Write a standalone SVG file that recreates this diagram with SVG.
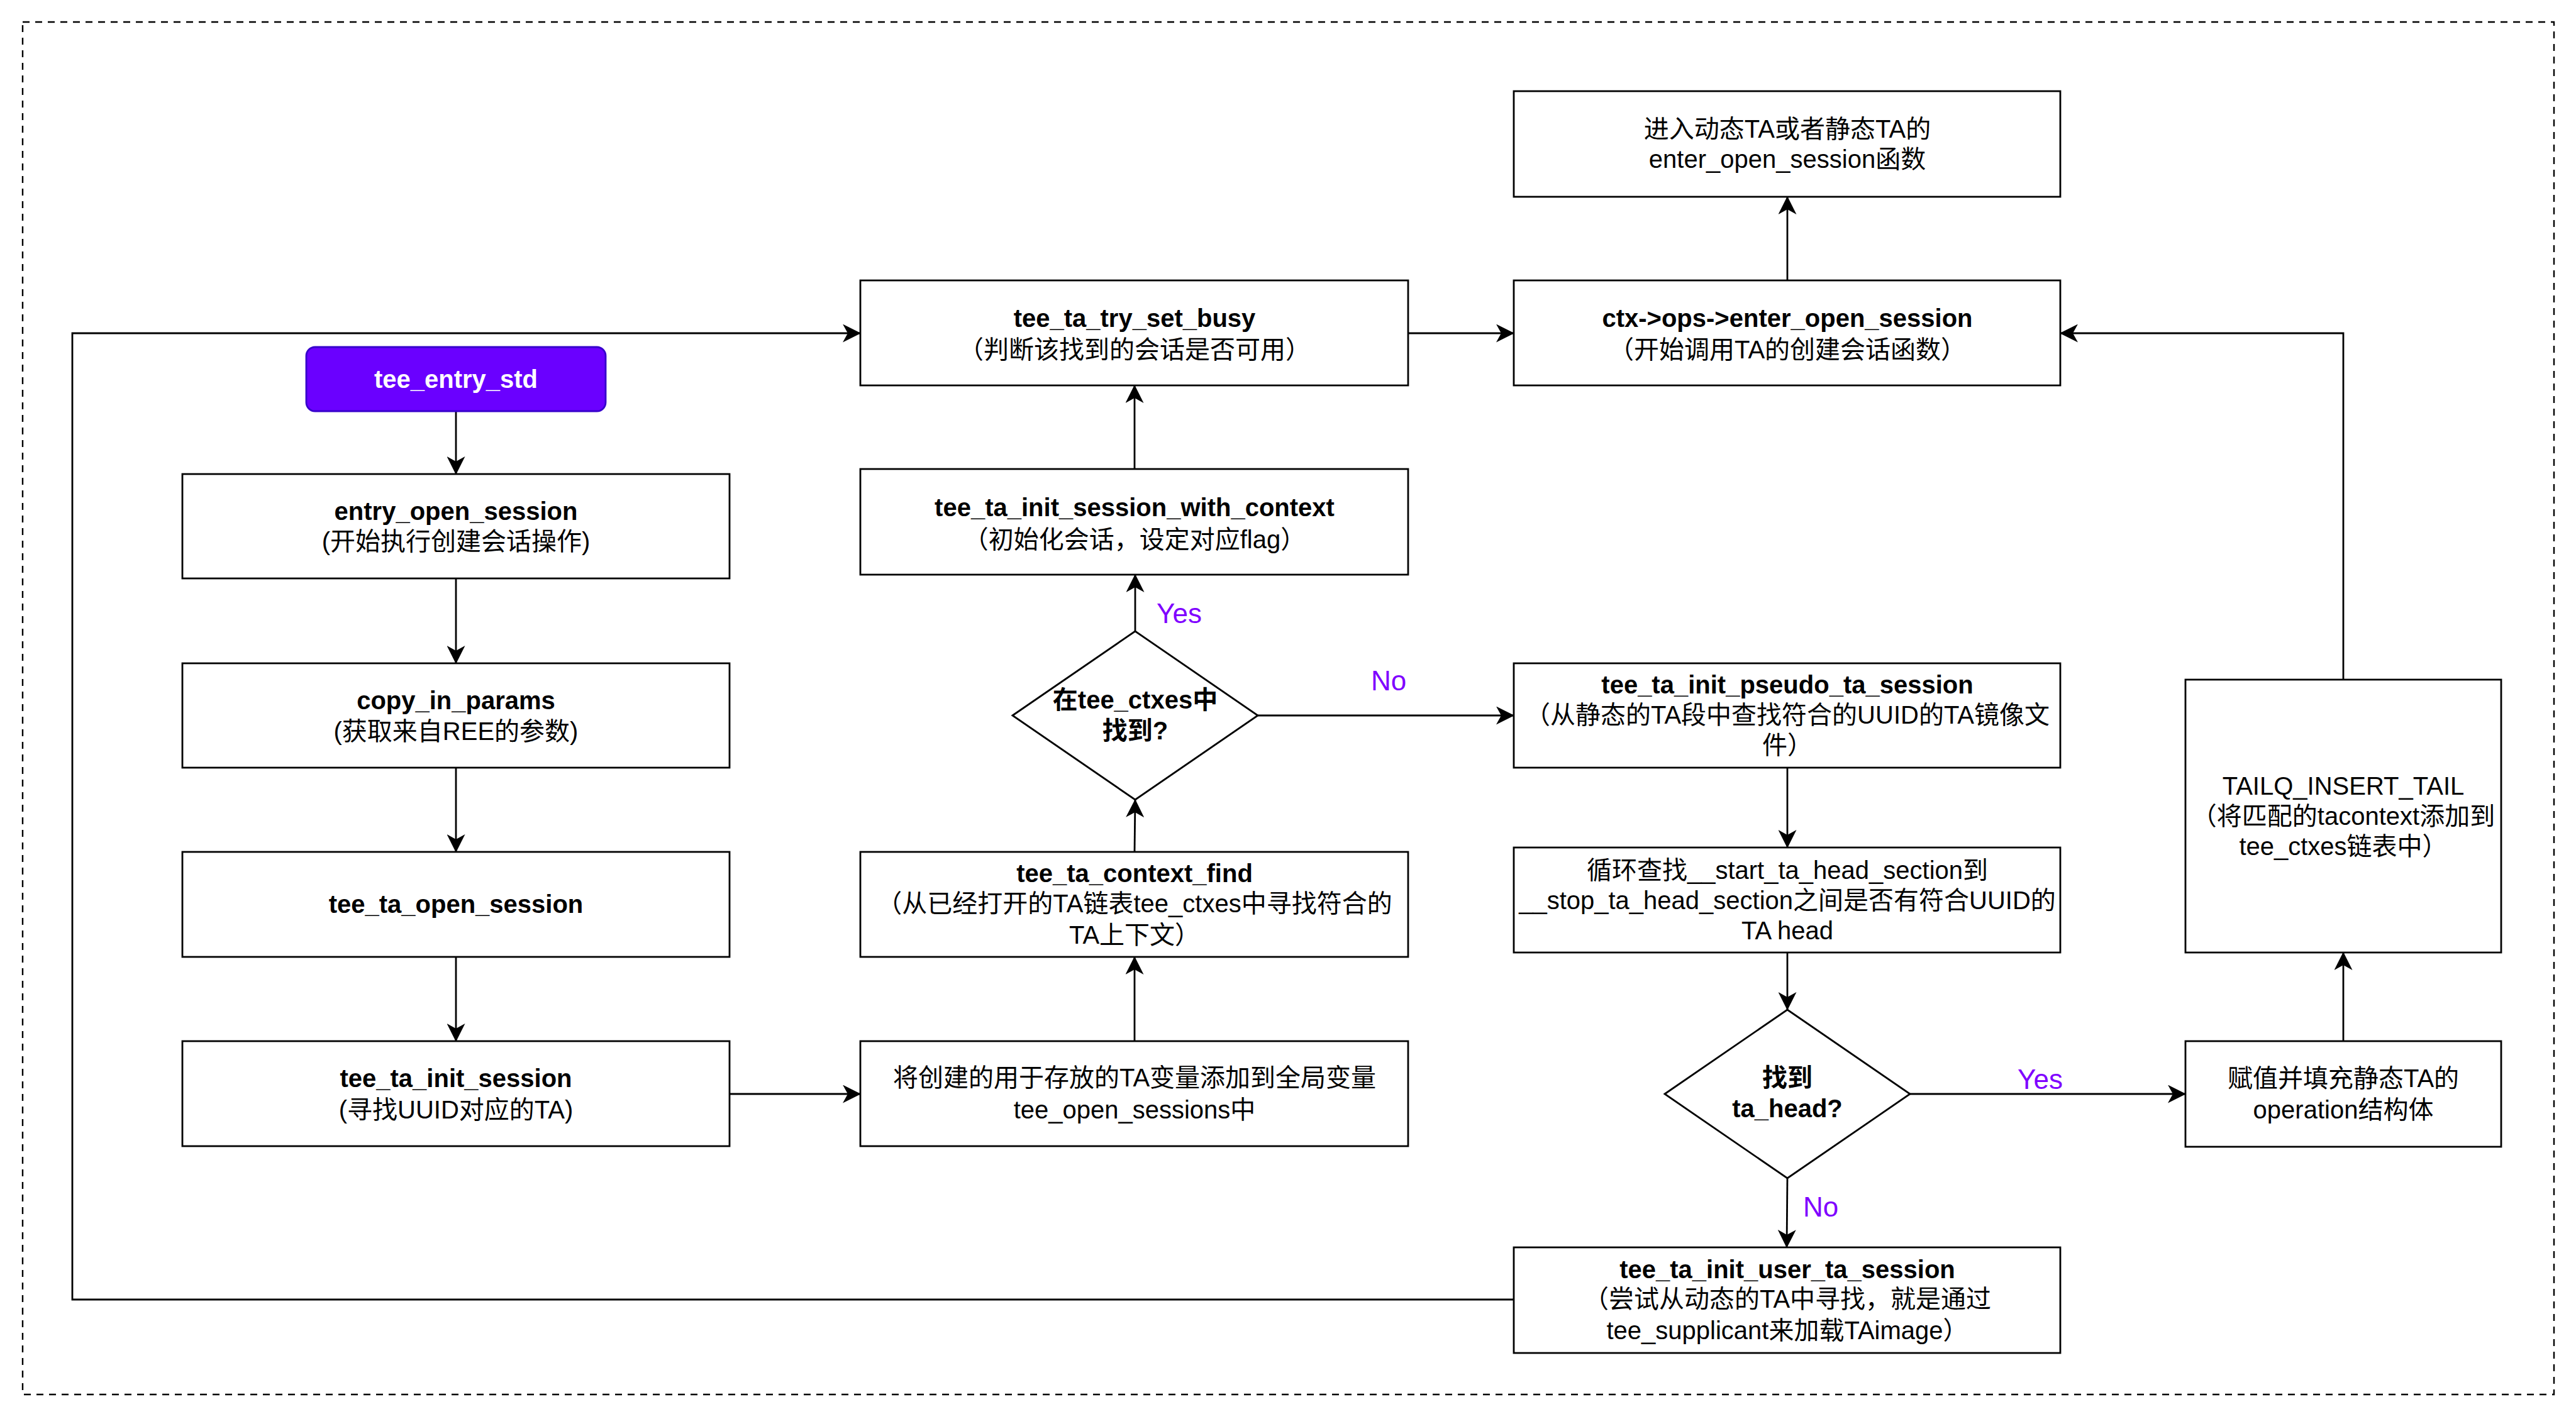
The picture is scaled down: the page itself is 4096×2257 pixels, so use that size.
<svg xmlns="http://www.w3.org/2000/svg" width="4096" height="2257" viewBox="0 0 4096 2257">
<defs>
<marker id="arr" viewBox="0 0 29 29" refX="28" refY="14.5" markerWidth="29" markerHeight="29" markerUnits="userSpaceOnUse" orient="auto">
<path d="M0,0 L29,14.5 L0,29 L8,14.5 Z" fill="#000"/>
</marker>
</defs>
<style>
.box{fill:#fff;stroke:#000;stroke-width:2.8}
.t{font-family:"Liberation Sans","Noto Sans CJK SC",sans-serif;font-size:40px;text-anchor:middle;fill:#000}
.b{font-weight:bold}
.lbl{font-family:"Liberation Sans","Noto Sans CJK SC",sans-serif;font-size:44px;text-anchor:middle;fill:#7F00FF}
.c{fill:none;stroke:#000;stroke-width:2.8;marker-end:url(#arr)}
</style>
<rect x="0" y="0" width="4096" height="2257" fill="#fff"/>
<rect x="36" y="35" width="4025" height="2183" fill="none" stroke="#000" stroke-width="2.4" stroke-dasharray="11 9"/>

<g id="connectors">
<path class="c" d="M725,654 L725,754"/>
<path class="c" d="M725,920 L725,1055"/>
<path class="c" d="M725,1221 L725,1355"/>
<path class="c" d="M725,1522 L725,1656"/>
<path class="c" d="M1160,1740 L1368,1740"/>
<path class="c" d="M1804,1656 L1804,1522"/>
<path class="c" d="M1804,1355 L1805,1272"/>
<path class="c" d="M1805,1004 L1805,914"/>
<path class="c" d="M1804,746 L1804,613"/>
<path class="c" d="M2239,530 L2407,530"/>
<path class="c" d="M2842,446 L2842,313"/>
<path class="c" d="M2000,1138 L2407,1138"/>
<path class="c" d="M2842,1221 L2842,1348"/>
<path class="c" d="M2842,1515 L2842,1606"/>
<path class="c" d="M3037,1740 L3475,1740"/>
<path class="c" d="M2842,1874 L2841,1984"/>
<path class="c" d="M3726,1656 L3726,1515"/>
<path class="c" d="M3726,1081 L3726,530 L3276,530"/>
<path class="c" d="M2407,2067 L115,2067 L115,530 L1368,530"/>
<text class="lbl" x="1875" y="991">Yes</text>
<text class="lbl" x="2208" y="1098">No</text>
<text class="lbl" x="3244" y="1732">Yes</text>
<text class="lbl" x="2895" y="1935">No</text>
</g>

<g id="tee_entry_std">
<rect x="487" y="552" width="476" height="102" rx="14" fill="#6a00ff" stroke="#3700CC" stroke-width="2.8"/>
<text class="t b" x="725" y="617" style="fill:#fff">tee_entry_std</text>
</g>

<g id="entry_open_session">
<rect class="box" x="290" y="754" width="870" height="166"/>
<text class="t b" x="725" y="827">entry_open_session</text>
<text class="t" x="725" y="875">(开始执行创建会话操作)</text>
</g>

<g id="copy_in_params">
<rect class="box" x="290" y="1055" width="870" height="166"/>
<text class="t b" x="725" y="1128">copy_in_params</text>
<text class="t" x="725" y="1177">(获取来自REE的参数)</text>
</g>

<g id="tee_ta_open_session">
<rect class="box" x="290" y="1355" width="870" height="167"/>
<text class="t b" x="725" y="1452">tee_ta_open_session</text>
</g>

<g id="tee_ta_init_session">
<rect class="box" x="290" y="1656" width="870" height="167"/>
<text class="t b" x="725" y="1729">tee_ta_init_session</text>
<text class="t" x="725" y="1779">(寻找UUID对应的TA)</text>
</g>

<g id="tee_ta_try_set_busy">
<rect class="box" x="1368" y="446" width="871" height="167"/>
<text class="t b" x="1804" y="520">tee_ta_try_set_busy</text>
<text class="t" x="1804" y="570">（判断该找到的会话是否可用）</text>
</g>

<g id="tee_ta_init_session_with_context">
<rect class="box" x="1368" y="746" width="871" height="168"/>
<text class="t b" x="1804" y="821">tee_ta_init_session_with_context</text>
<text class="t" x="1804" y="872">（初始化会话，设定对应flag）</text>
</g>

<g id="found_in_ctxes">
<polygon class="box" points="1610,1138 1805,1004 2000,1138 1805,1272"/>
<text class="t b" x="1805" y="1127">在tee_ctxes中</text>
<text class="t b" x="1805" y="1176">找到?</text>
</g>

<g id="tee_ta_context_find">
<rect class="box" x="1368" y="1355" width="871" height="167"/>
<text class="t b" x="1804" y="1403">tee_ta_context_find</text>
<text class="t" x="1804" y="1451">（从已经打开的TA链表tee_ctxes中寻找符合的</text>
<text class="t" x="1804" y="1501">TA上下文）</text>
</g>

<g id="add_open_sessions">
<rect class="box" x="1368" y="1656" width="871" height="167"/>
<text class="t" x="1804" y="1728">将创建的用于存放的TA变量添加到全局变量</text>
<text class="t" x="1804" y="1779">tee_open_sessions中</text>
</g>

<g id="enter_open_session">
<rect class="box" x="2407" y="145" width="869" height="168"/>
<text class="t" x="2842" y="219">进入动态TA或者静态TA的</text>
<text class="t" x="2842" y="267">enter_open_session函数</text>
</g>

<g id="ctx_ops_enter_open_session">
<rect class="box" x="2407" y="446" width="869" height="167"/>
<text class="t b" x="2842" y="520">ctx-&gt;ops-&gt;enter_open_session</text>
<text class="t" x="2842" y="570">（开始调用TA的创建会话函数）</text>
</g>

<g id="tee_ta_init_pseudo_ta_session">
<rect class="box" x="2407" y="1055" width="869" height="166"/>
<text class="t b" x="2842" y="1103">tee_ta_init_pseudo_ta_session</text>
<text class="t" x="2842" y="1151">（从静态的TA段中查找符合的UUID的TA镜像文</text>
<text class="t" x="2842" y="1199">件）</text>
</g>

<g id="loop_search_head">
<rect class="box" x="2407" y="1348" width="869" height="167"/>
<text class="t" x="2842" y="1398">循环查找__start_ta_head_section到</text>
<text class="t" x="2842" y="1446">__stop_ta_head_section之间是否有符合UUID的</text>
<text class="t" x="2842" y="1494">TA head</text>
</g>

<g id="found_ta_head">
<polygon class="box" points="2647,1740 2842,1606 3037,1740 2842,1874"/>
<text class="t b" x="2842" y="1728">找到</text>
<text class="t b" x="2842" y="1777">ta_head?</text>
</g>

<g id="tee_ta_init_user_ta_session">
<rect class="box" x="2407" y="1984" width="869" height="168"/>
<text class="t b" x="2842" y="2033">tee_ta_init_user_ta_session</text>
<text class="t" x="2842" y="2080">（尝试从动态的TA中寻找，就是通过</text>
<text class="t" x="2842" y="2130">tee_supplicant来加载TAimage）</text>
</g>

<g id="tailq_insert_tail">
<rect class="box" x="3475" y="1081" width="502" height="434"/>
<text class="t" x="3726" y="1264">TAILQ_INSERT_TAIL</text>
<text class="t" x="3726" y="1312">（将匹配的tacontext添加到</text>
<text class="t" x="3726" y="1360">tee_ctxes链表中）</text>
</g>

<g id="fill_operation">
<rect class="box" x="3475" y="1656" width="502" height="168"/>
<text class="t" x="3726" y="1729">赋值并填充静态TA的</text>
<text class="t" x="3726" y="1779">operation结构体</text>
</g>
</svg>
